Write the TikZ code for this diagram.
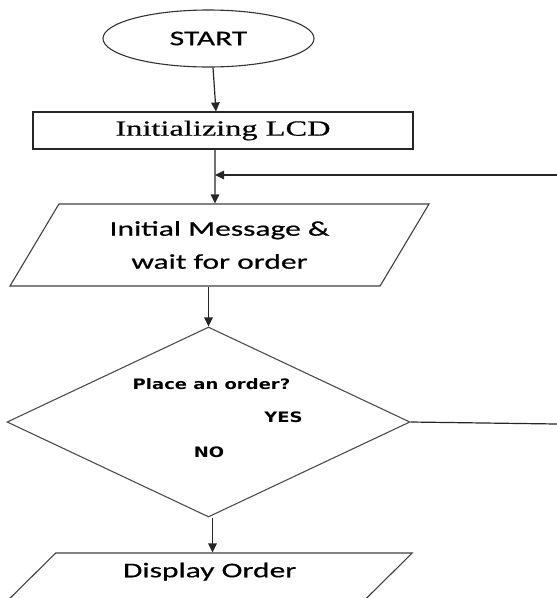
\documentclass[tikz,border=0pt]{standalone}
\usepackage{fontspec}
\usepackage{tikz}
\usetikzlibrary{positioning, arrows.meta, shapes.geometric}
\newfontfamily\flowsans[FakeStretch=1.5, FakeBold=0.6]{Carlito}
\newfontfamily\flowserif[FakeStretch=1.5, FakeBold=0.5]{Liberation Serif}
\newfontfamily\flowbold[FakeStretch=1.25]{DejaVu Sans}
\tikzset{
  term/.style = {draw=black!80, ellipse, line width=1.1pt, minimum width=211pt,
                 minimum height=57pt, inner sep=0pt,
                 font=\flowsans\fontsize{21}{25}\selectfont},
  proc/.style = {draw=black!85, rectangle, line width=1.1pt, minimum width=380pt,
                 minimum height=37pt, inner sep=0pt,
                 font=\flowserif\fontsize{21.6}{26}\selectfont},
  io/.style   = {draw=black!75, trapezium, trapezium stretches body, line width=1.1pt,
                 inner sep=0pt, align=center,
                 font=\flowsans\fontsize{21}{33}\selectfont},
  dec/.style  = {draw=black!70, diamond, line width=1.1pt, inner sep=0pt},
  ar/.style   = {-{Triangle[length=9pt, width=8.5pt]}, line width=1.2pt, black!85},
  ln/.style   = {line width=1.2pt, black!85},
  lbl/.style  = {anchor=base, inner sep=0pt,
                 font=\flowbold\bfseries\fontsize{14.4}{17}\selectfont},
}
\begin{document}
\begin{tikzpicture}[x=1pt, y=-1pt]
  \useasboundingbox (0,0) rectangle (557,598);
  \clip (0,0) rectangle (557,598);
  \node[term] (start) at (208.5,38.5) {START};
  \node[proc] (init) at (223,130.5) {Initializing LCD};
  \node[io, minimum width=419pt, minimum height=82pt, trapezium left angle=44.3,
        trapezium right angle=135.7] (msg) at (219.5,245) {Initial Message \&\\wait for order};
  \node[dec, minimum width=403pt, minimum height=190pt] (ask) at (208.5,422) {};
  \node[lbl] (q) at (211.5,389) {Place an order?};
  \node[lbl] (yes) at (283.5,422) {YES};
  \node[lbl] (no) at (209,457) {NO};
  \node[io, minimum width=405pt, minimum height=48pt, trapezium left angle=30.5,
        trapezium right angle=149.5, text depth=14pt] (disp) at (209.7,577) {Display Order};
  \coordinate (back) at (557,175);
  \coordinate (join) at (215,175);
  \coordinate (yesend) at (557,424);
  \draw[ar] ([xshift=4.5pt]start.south) -- ([xshift=-7pt]init.north);
  \draw[ar] ([xshift=-8pt]init.south) -- ([xshift=-4.5pt]msg.north);
  \draw[ar] (back) -- (join);
  \draw[ar] (msg.south -| ask.north) -- (ask.north);
  \draw[ar] ([xshift=4pt]ask.south) -- ([xshift=4pt]ask.south |- disp.north);
  \draw[ln] (ask.east) -- (yesend);
\end{tikzpicture}
\end{document}
